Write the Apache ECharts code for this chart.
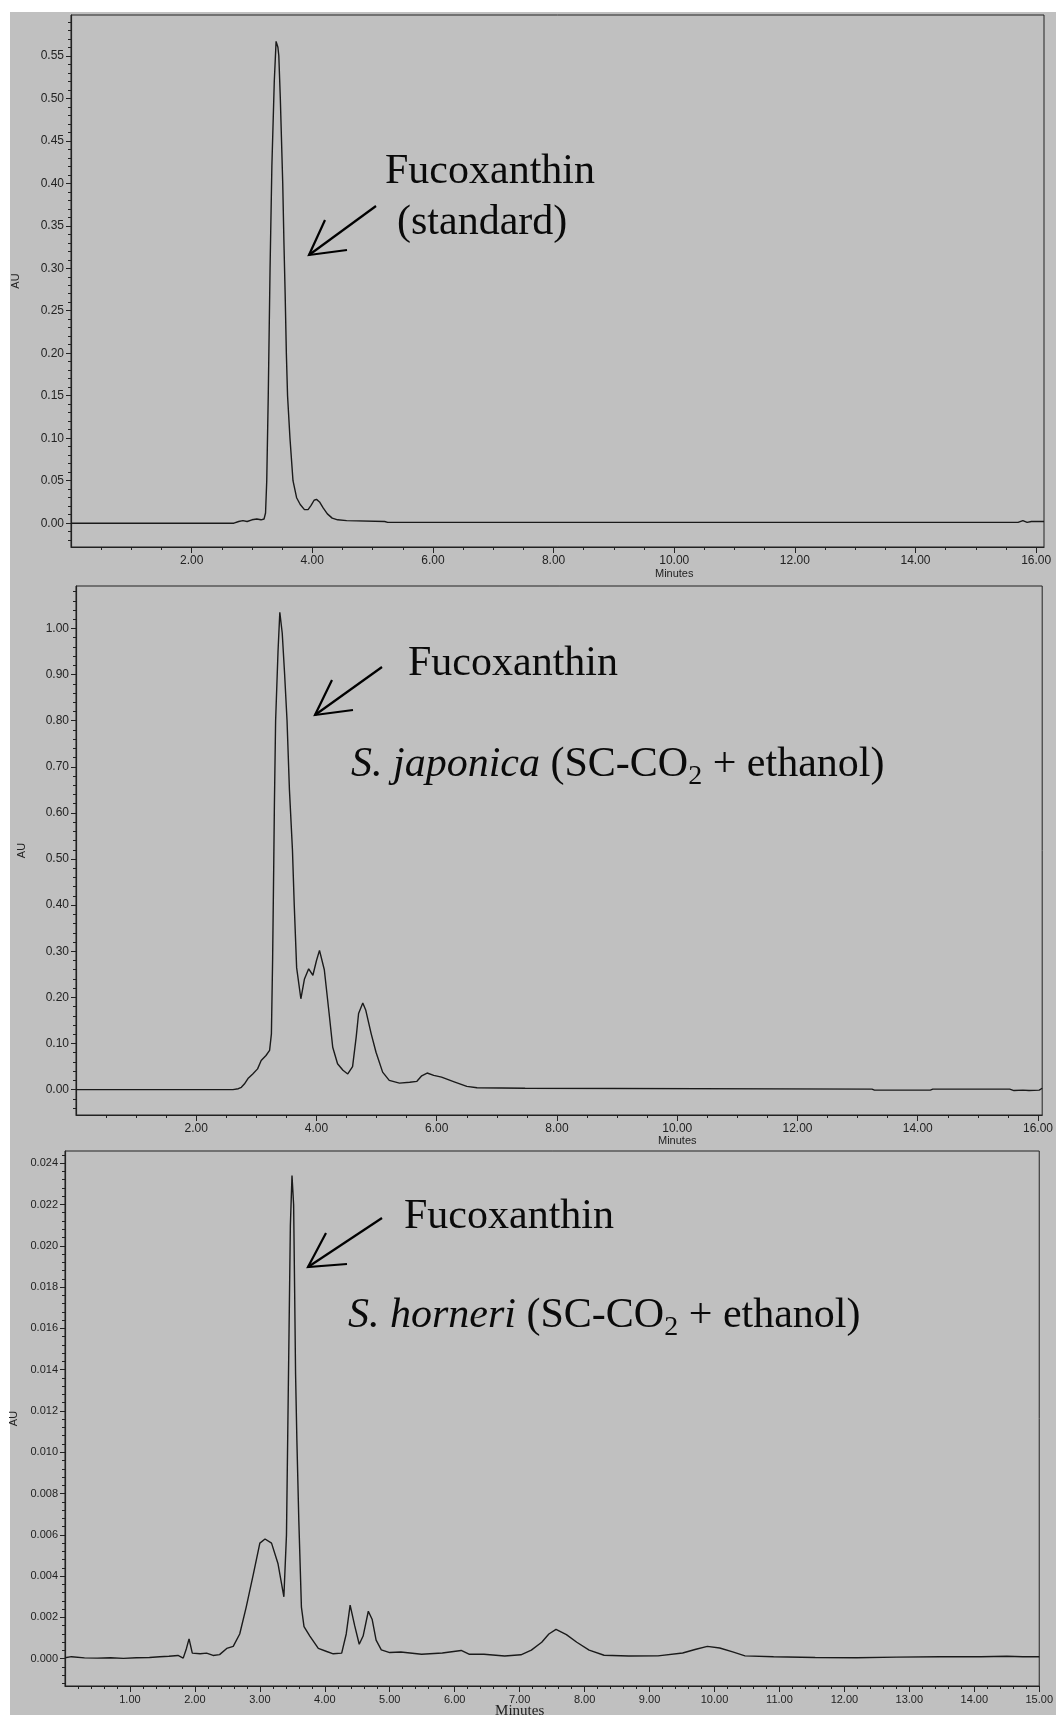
<!DOCTYPE html>
<html><head><meta charset="utf-8">
<script src="https://cdn.jsdelivr.net/npm/echarts@6/dist/echarts.min.js"></script>
<style>
html,body{margin:0;padding:0;background:#fff;}
#bg{position:absolute;left:10px;top:12px;width:1046px;height:1703px;background:#c0c0c0;}
#chart{position:absolute;left:0;top:0;width:1056px;height:1715px;}
</style></head><body>
<div id="bg"></div><div id="chart"></div>
<script>
// ---------- Panel 1: Fucoxanthin standard ----------
const p1Time = [0, 2.70, 2.78, 2.85, 2.92, 3.00, 3.08, 3.15, 3.20, 3.225, 3.245, 3.27, 3.30, 3.33, 3.37, 3.40, 3.43, 3.445, 3.47, 3.51, 3.53, 3.55, 3.57, 3.59, 3.63, 3.68, 3.74, 3.80, 3.87, 3.93, 3.98, 4.03, 4.07, 4.12, 4.18, 4.25, 4.33, 4.42, 4.57, 5.20, 5.25, 15.70, 15.78, 15.85, 15.92, 16.13];
const p1AU   = [0, 0, 0.002, 0.003, 0.002, 0.004, 0.005, 0.004, 0.005, 0.012, 0.05, 0.15, 0.30, 0.42, 0.52, 0.567, 0.56, 0.55, 0.50, 0.40, 0.33, 0.27, 0.20, 0.15, 0.10, 0.05, 0.03, 0.022, 0.016, 0.016, 0.021, 0.027, 0.028, 0.025, 0.018, 0.011, 0.006, 0.004, 0.003, 0.002, 0.001, 0.001, 0.003, 0.001, 0.002, 0.002];
// ---------- Panel 2: S. japonica ----------
const p2Time = [0, 2.61, 2.70, 2.75, 2.80, 2.86, 2.94, 3.02, 3.08, 3.16, 3.22, 3.25, 3.27, 3.29, 3.30, 3.32, 3.36, 3.39, 3.43, 3.47, 3.51, 3.55, 3.60, 3.63, 3.67, 3.74, 3.80, 3.87, 3.94, 4.00, 4.05, 4.13, 4.21, 4.27, 4.35, 4.44, 4.52, 4.60, 4.66, 4.70, 4.77, 4.82, 4.91, 4.99, 5.10, 5.21, 5.38, 5.55, 5.67, 5.75, 5.84, 5.95, 6.08, 6.29, 6.50, 6.67, 7.47, 7.50, 13.24, 13.28, 14.21, 14.25, 15.53, 15.60, 15.75, 15.85, 16.02, 16.05, 16.07];
const p2AU   = [0, 0, 0.002, 0.005, 0.012, 0.024, 0.034, 0.045, 0.063, 0.074, 0.085, 0.121, 0.28, 0.50, 0.62, 0.80, 0.95, 1.035, 0.99, 0.90, 0.80, 0.65, 0.52, 0.40, 0.264, 0.197, 0.24, 0.262, 0.248, 0.28, 0.302, 0.26, 0.165, 0.092, 0.056, 0.042, 0.034, 0.05, 0.114, 0.165, 0.188, 0.172, 0.121, 0.081, 0.038, 0.02, 0.014, 0.016, 0.018, 0.03, 0.036, 0.031, 0.027, 0.017, 0.007, 0.004, 0.003, 0.001, 0.001, -0.001, -0.001, 0.001, 0.001, -0.002, -0.001, -0.002, -0.001, 0.003, 0.003];
// ---------- Panel 3: S. horneri ----------
const p3Time = [0, 0.1, 0.3, 0.5, 0.7, 0.9, 1.1, 1.3, 1.46, 1.6, 1.74, 1.82, 1.87, 1.91, 1.96, 2.08, 2.18, 2.28, 2.38, 2.49, 2.59, 2.69, 2.79, 2.90, 3.00, 3.08, 3.18, 3.28, 3.37, 3.41, 3.43, 3.45, 3.47, 3.495, 3.52, 3.535, 3.55, 3.57, 3.60, 3.64, 3.68, 3.77, 3.90, 4.03, 4.13, 4.26, 4.33, 4.39, 4.46, 4.53, 4.59, 4.67, 4.73, 4.79, 4.87, 5.00, 5.17, 5.49, 5.81, 6.10, 6.22, 6.45, 6.77, 7.02, 7.18, 7.34, 7.45, 7.56, 7.72, 7.88, 8.07, 8.30, 8.68, 9.13, 9.51, 9.70, 9.89, 10.08, 10.28, 10.47, 10.91, 11.55, 12.19, 12.80, 13.47, 14.10, 14.50, 14.75, 15.00];
const p3AU   = [0.00005, 0.0001, 0.00004, 0.00003, 0.00005, 0.00002, 0.00005, 0.00006, 0.0001, 0.00012, 0.00016, 0.00003, 0.0005, 0.00096, 0.00027, 0.00024, 0.00027, 0.00016, 0.0002, 0.0005, 0.0006, 0.0012, 0.0025, 0.0041, 0.0056, 0.0058, 0.0056, 0.0046, 0.003, 0.006, 0.011, 0.016, 0.021, 0.0234, 0.022, 0.018, 0.0138, 0.0106, 0.0067, 0.0025, 0.00156, 0.0011, 0.0005, 0.00035, 0.00024, 0.00027, 0.0012, 0.0026, 0.0016, 0.0007, 0.0011, 0.0023, 0.0019, 0.0009, 0.00043, 0.0003, 0.00033, 0.00022, 0.00028, 0.0004, 0.00022, 0.00022, 0.00013, 0.00019, 0.00042, 0.0008, 0.0012, 0.00142, 0.00117, 0.0008, 0.00042, 0.00017, 0.00013, 0.00014, 0.00028, 0.00045, 0.0006, 0.00052, 0.00033, 0.00014, 0.0001, 0.00006, 0.00005, 0.00008, 0.0001, 0.0001, 0.00012, 0.0001, 0.0001];

// ---------- Tick labels ----------
const p1XTicks = [2, 4, 6, 8, 10, 12, 14, 16];
const p1YTicks = [0, 0.05, 0.10, 0.15, 0.20, 0.25, 0.30, 0.35, 0.40, 0.45, 0.50, 0.55];
const p2XTicks = [2, 4, 6, 8, 10, 12, 14, 16];
const p2YTicks = [0, 0.1, 0.2, 0.3, 0.4, 0.5, 0.6, 0.7, 0.8, 0.9, 1.0];
const p3XTicks = [1, 2, 3, 4, 5, 6, 7, 8, 9, 10, 11, 12, 13, 14, 15];
const p3YTicks = [0, 0.002, 0.004, 0.006, 0.008, 0.010, 0.012, 0.014, 0.016, 0.018, 0.020, 0.022, 0.024];

function pairs(t, v){ return t.map((x,i)=>[x, v[i]]); }
function minors(lo, hi, step){ const out=[]; const k0=Math.ceil(lo/step-1e-9), k1=Math.floor(hi/step+1e-9); for(let k=k0;k<=k1;k++) out.push(Math.round(k*step*1e7)/1e7); return out; }

const panels = [
  {grid:{left:71, top:15, width:973, height:532}, x:[0,16.13], y:[-0.028,0.598], xt:p1XTicks, yt:p1YTicks, xm:0.5, ym:0.01, ydec:2, fs:12, nameGap:50, data:pairs(p1Time,p1AU), minutesAt:10, minutesFont:'11px "Liberation Sans"', minutesDy:27},
  {grid:{left:76, top:586, width:969, height:529}, x:[0,16.07], y:[-0.055,1.092], xt:p2XTicks, yt:p2YTicks, xm:0.5, ym:0.02, ydec:2, fs:12, nameGap:49, data:pairs(p2Time,p2AU), minutesAt:10, minutesFont:'11px "Liberation Sans"', minutesDy:26},
  {grid:{left:65, top:1151, width:978, height:535}, x:[0,15.0], y:[-0.00132,0.02459], xt:p3XTicks, yt:p3YTicks, xm:0.2, ym:0.0004, ydec:3, fs:11, nameGap:46, data:pairs(p3Time,p3AU), minutesAt:7, minutesFont:'15px "Liberation Serif"', minutesDy:25}
];

const axisColor = '#222';
const grids=[], xAxes=[], yAxes=[], series=[];
panels.forEach((p,i)=>{
  grids.push(Object.assign({show:true, borderColor:axisColor, borderWidth:1, backgroundColor:'transparent'}, p.grid));
  const lblStyle = {color:axisColor, fontFamily:'Liberation Sans', fontSize:p.fs};
  xAxes.push({type:'value', gridIndex:i, position:'bottom', min:p.x[0], max:p.x[1],
    axisLine:{show:true, onZero:false, lineStyle:{color:axisColor, width:1.2}},
    axisTick:{show:true, customValues:p.xt, length:6, lineStyle:{color:axisColor}},
    axisLabel:{show:true, customValues:p.xt, margin:8, formatter:v=>v.toFixed(2), ...lblStyle},
    splitLine:{show:false}});
  xAxes.push({type:'value', gridIndex:i, position:'bottom', min:p.x[0], max:p.x[1],
    axisLine:{show:false, onZero:false}, axisLabel:{show:false},
    axisTick:{show:true, customValues:minors(p.x[0]+1e-6, p.x[1], p.xm), length:3, lineStyle:{color:axisColor}},
    splitLine:{show:false}});
  yAxes.push({type:'value', gridIndex:i, position:'left', min:p.y[0], max:p.y[1],
    name:'AU', nameLocation:'middle', nameRotate:90, nameGap:p.nameGap,
    nameTextStyle:{color:axisColor, fontFamily:'Liberation Sans', fontSize:11},
    axisLine:{show:true, onZero:false, lineStyle:{color:axisColor, width:1.2}},
    axisTick:{show:true, customValues:p.yt, length:5, lineStyle:{color:axisColor}},
    axisLabel:{show:true, customValues:p.yt, margin:7, formatter:v=>v.toFixed(p.ydec), ...lblStyle},
    splitLine:{show:false}});
  yAxes.push({type:'value', gridIndex:i, position:'left', min:p.y[0], max:p.y[1],
    axisLine:{show:false, onZero:false}, axisLabel:{show:false},
    axisTick:{show:true, customValues:minors(p.y[0], p.y[1], p.ym), length:3, lineStyle:{color:axisColor}},
    splitLine:{show:false}});
  series.push({type:'line', xAxisIndex:2*i, yAxisIndex:2*i, data:p.data, showSymbol:false, symbol:'none',
    lineStyle:{color:'#1a1a1a', width:1.4}, clip:true, silent:true});
});

// ---------- annotations ----------
const mctx = document.createElement('canvas').getContext('2d');
function textW(font, s){ mctx.font = font; return mctx.measureText(s).width; }
const serif = '"Liberation Serif"';
const F = '42px ' + serif, FI = 'italic 42px ' + serif, FS = '28px ' + serif;
function txt(s, x, baseline, font, size){
  return {type:'text', x:x, y:baseline - 0.305*size, silent:true,
    style:{text:s, font:font, fill:'#0a0a0a', align:'left', textAlign:'left', verticalAlign:'middle', textVerticalAlign:'middle'}};
}
function line(x, baseline, parts){
  const out=[]; let cx=x;
  parts.forEach(([s,font,size,dy])=>{ out.push(txt(s, cx, baseline+dy, font, size)); cx += textW(font, s); });
  return out;
}
function arrow(x0,y0,x1,y1,h1,h2){
  return [
    {type:'polyline', silent:true, shape:{points:[[x0,y0],[x1,y1]]}, style:{stroke:'#000', lineWidth:2.2, fill:null}},
    {type:'polyline', silent:true, shape:{points:[h1,[x1,y1],h2]}, style:{stroke:'#000', lineWidth:2.2, fill:null}}
  ];
}
const graphics = [].concat(
  txt('Fucoxanthin', 385, 185, F, 42), txt('(standard)', 397, 236, F, 42),
  arrow(376,206,309,255,[325,220],[347,250]),
  txt('Fucoxanthin', 408, 677, F, 42),
  line(351, 778, [['S. japonica', FI, 42, 0], [' (SC-CO', F, 42, 0], ['2', FS, 28, 7], [' + ethanol)', F, 42, 0]]),
  arrow(382,667,315,715,[332,680],[353,710]),
  txt('Fucoxanthin', 404, 1230, F, 42),
  line(348, 1329, [['S. horneri', FI, 42, 0], [' (SC-CO', F, 42, 0], ['2', FS, 28, 7], [' + ethanol)', F, 42, 0]]),
  arrow(382,1218,308,1267,[326,1233],[347,1264])
);

const chart = echarts.init(document.getElementById('chart'), null, {renderer:'canvas'});
chart.setOption({
  animation:false, backgroundColor:'transparent',
  grid:grids, xAxis:xAxes, yAxis:yAxes, series:series, graphic:graphics
});
const minuteLabels = panels.map((p,i)=>{
  const px = chart.convertToPixel({xAxisIndex:2*i}, p.minutesAt);
  return {type:'text', x:px, y:p.grid.top + p.grid.height + p.minutesDy, silent:true,
    style:{text:'Minutes', font:p.minutesFont, fill:axisColor, align:'center', textAlign:'center', verticalAlign:'middle', textVerticalAlign:'middle'}};
});
chart.setOption({graphic: graphics.concat(minuteLabels)});
</script>
</body></html>
